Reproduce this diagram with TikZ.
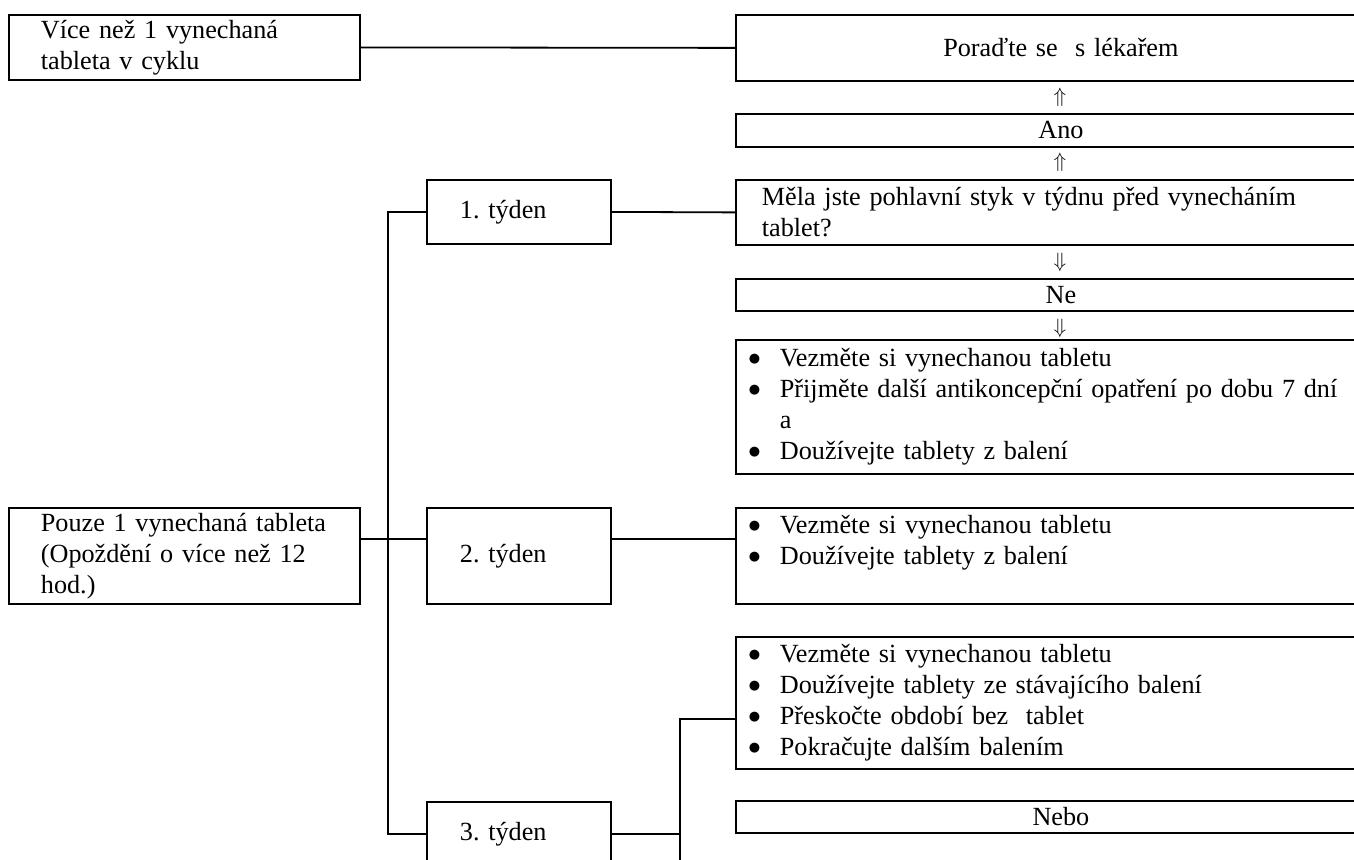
\documentclass[tikz,border=0pt]{standalone}
\usepackage{fontspec}
\setmainfont{Liberation Serif}
\newfontfamily\dotfont{DejaVu Sans}
\frenchspacing
\newcommand\bul[1]{\hspace*{13pt}\makebox[31pt][l]{\raisebox{4.5pt}[0pt][0pt]{\dotfont\fontsize{13}{13}\selectfont ●}}#1}
\newcommand\incol[1]{\makebox[650pt][c]{#1}}
\begin{document}
\begin{tikzpicture}[x=1pt,y=-1pt,line width=1.8pt,
  box/.style={draw,anchor=north west,align=left,inner sep=0pt,font=\fontsize{26.2}{31}\selectfont},
  lbox/.style={box,inner xsep=32pt,text width=287pt},
  wbox/.style={box,inner xsep=33pt,text width=118pt},
  rbox/.style={box,text width=665pt},
  arr/.style={inner sep=0pt,font=\fontsize{21}{25}\selectfont}]
\useasboundingbox (0,0) rectangle (1354,859);
\clip (0,0) rectangle (1354,859);
\node[lbox,minimum height=65pt] (more) at (8,14) {Více než 1 vynechaná\\tableta v cyklu};
\node[lbox,minimum height=96pt] (only) at (8,507) {\mbox{Pouze 1 vynechaná tableta}\\(Opoždění o více než 12\\hod.)};
\node[wbox,minimum height=64pt] (w1) at (426,179) {1. týden};
\node[wbox,minimum height=96pt] (w2) at (426,507) {2. týden};
\node[wbox,minimum height=64pt] (w3) at (426,801) {3. týden};
\node[rbox,minimum height=66pt] (doctor) at (735,14) {\incol{Poraďte se\ \ s lékařem}};
\node[arr] (up1) at (1060,97) {$\Uparrow$};
\node[rbox,minimum height=33pt] (yes) at (735,113) {\incol{Ano}};
\node[arr] (up2) at (1060,162) {$\Uparrow$};
\node[rbox,minimum height=65pt] (ques) at (735,179) {\hspace*{26pt}Měla jste pohlavní styk v týdnu před vynecháním\\\hspace*{26pt}tablet?};
\node[arr] (down1) at (1060,262) {$\Downarrow$};
\node[rbox,minimum height=32pt] (no) at (735,278) {\incol{Ne}};
\node[arr] (down2) at (1060,328) {$\Downarrow$};
\node[rbox,minimum height=134pt] (tab1) at (735,339) {\bul{Vezměte si vynechanou tabletu}\\\bul{Přijměte další antikoncepční opatření po dobu 7 dní}\\\hspace*{44pt}a\\\bul{Doužívejte tablety z balení}};
\node[rbox,text height=26pt,text depth=70pt] (tab2) at (735,507) {\bul{Vezměte si vynechanou tabletu}\\\bul{Doužívejte tablety z balení}};
\node[rbox,minimum height=132pt] (tab3) at (735,636) {\bul{Vezměte si vynechanou tabletu}\\\bul{Doužívejte tablety ze stávajícího balení}\\\bul{Přeskočte období bez\ \ tablet}\\\bul{Pokračujte dalším balením}};
\node[rbox,minimum height=32pt] (other) at (735,800) {\incol{Nebo}};
\coordinate (j2) at (388,539);
\coordinate (p3) at (680,719);
\coordinate (low) at (680,870);
\draw (more.east) -- (doctor.west);
\draw (w1.east) -- (ques.west);
\draw (w1.west) -- ++(-38,0) |- (w3.west);
\draw (only.east |- j2) -- (w2.west |- j2);
\draw (w2.east |- j2) -- (tab2.west |- j2);
\draw (w3.east) -| (p3) -- (tab3.west |- p3);
\draw (w3.east -| p3) -- (low);
\end{tikzpicture}
\end{document}
